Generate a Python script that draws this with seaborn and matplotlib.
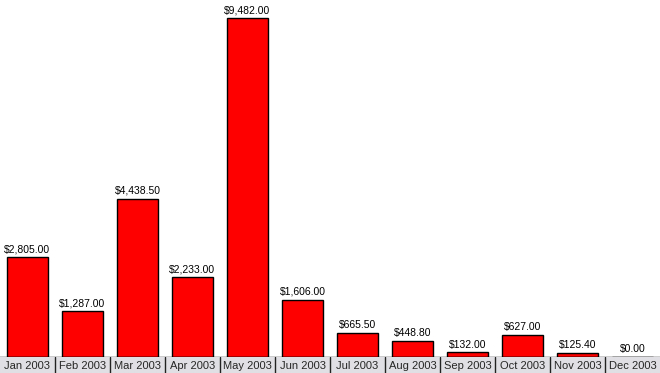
import matplotlib
matplotlib.use("Agg")
import matplotlib.pyplot as plt
import seaborn as sns
import pandas as pd

months = ["Jan 2003", "Feb 2003", "Mar 2003", "Apr 2003", "May 2003", "Jun 2003",
          "Jul 2003", "Aug 2003", "Sep 2003", "Oct 2003", "Nov 2003", "Dec 2003"]
amounts = [2805.00, 1287.00, 4438.50, 2233.00, 9482.00, 1606.00,
           665.50, 448.80, 132.00, 627.00, 125.40, 0.00]

df = pd.DataFrame({"month": months, "amount": amounts})

sns.set_style("white")
plt.rcParams["font.family"] = ["Liberation Sans", "DejaVu Sans"]

fig = plt.figure(figsize=(6.6, 3.73), dpi=100)
band = 16 / 373
ax = fig.add_axes([0, band, 1, 1 - band])

sns.barplot(data=df, x="month", y="amount", color="#ff0000", saturation=1,
            width=0.76, edgecolor="black", linewidth=1, ax=ax)
ax.bar_label(ax.containers[0], labels=[f"${v:,.2f}" for v in amounts],
             padding=2, fontsize=7.5, color="black")
ax.set_xlim(-0.5, len(months) - 0.5)
ax.set_ylim(0, 10000)
ax.set_xticks([])
ax.set_yticks([])
ax.set_xlabel("")
ax.set_ylabel("")
for s in ["top", "left", "right"]:
    ax.spines[s].set_visible(False)
ax.spines["bottom"].set_color("black")
ax.spines["bottom"].set_linewidth(1)

# category label strip
lab = fig.add_axes([0, 0, 1, band])
lab.set_facecolor("#e0e0e4")
lab.set_xlim(-0.5, len(months) - 0.5)
lab.set_ylim(0, 1)
for i, m in enumerate(months):
    lab.text(i, 0.45, m, ha="center", va="center", fontsize=8)
for i in range(1, len(months)):
    lab.axvline(i - 0.5, color="#222222", lw=1)
lab.set_xticks([])
lab.set_yticks([])
for s in lab.spines.values():
    s.set_visible(False)

fig.savefig("out.png", dpi=100)
